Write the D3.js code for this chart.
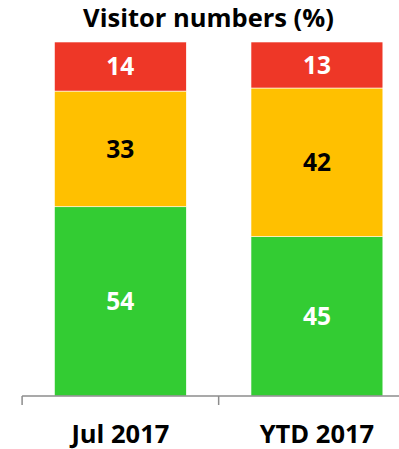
<!DOCTYPE html>
<html>
<head>
<meta charset="utf-8">
<script src="https://cdn.jsdelivr.net/npm/d3@7"></script>
<style>
  body { margin: 0; background: #fff; }
  text { font-family: "Open Sans", "Noto Sans", sans-serif; font-weight: bold; }
</style>
</head>
<body>
<div id="chart"></div>
<script>
const categories = ['Jul 2017', 'YTD 2017'];
const seriesNames = ['Green', 'Amber', 'Red'];
const green = [54, 45];
const amber = [33, 42];
const red = [14, 13];
const title = 'Visitor numbers (%)';

const width = 399, height = 449;
const colors = { Green: '#33cc33', Amber: '#ffc000', Red: '#ee3727' };
const labelColors = { Green: '#fff', Amber: '#000', Red: '#fff' };

const svg = d3.select('#chart').append('svg').attr('width', width).attr('height', height);

// build rows, each bar scaled to its own total (100%)
const rows = categories.map((c, i) => ({ cat: c, Green: green[i], Amber: amber[i], Red: red[i] }));
rows.forEach(r => { r.total = r.Green + r.Amber + r.Red; });
const stacked = d3.stack().keys(seriesNames)
    .value((d, k) => d[k] / d.total)(rows);

const x = d3.scaleBand().domain(categories).range([22, 415.3]).paddingInner(0.329).paddingOuter(0.165);
const y = d3.scaleLinear().domain([0, 1]).range([396, 42]);

// title
svg.append('text')
    .attr('x', 208.5)
    .attr('y', 27)
    .attr('text-anchor', 'middle')
    .style('font-size', '25.5px')
    .attr('fill', '#000')
    .text(title);

const layer = svg.selectAll('g.layer').data(stacked).enter().append('g').attr('class', 'layer');

layer.selectAll('rect').data(s => s.map(d => ({ key: s.key, d: d })))
    .enter().append('rect')
    .attr('x', o => x(o.d.data.cat))
    .attr('width', x.bandwidth())
    .attr('y', o => y(o.d[1]))
    .attr('height', o => y(o.d[0]) - y(o.d[1]))
    .attr('fill', o => colors[o.key])
    .attr('stroke', '#fff')
    .attr('stroke-width', 0.6);

layer.selectAll('text').data(s => s.map(d => ({ key: s.key, d: d })))
    .enter().append('text')
    .attr('x', o => x(o.d.data.cat) + x.bandwidth() / 2)
    .attr('y', o => (y(o.d[0]) + y(o.d[1])) / 2)
    .attr('dy', '0.36em')
    .attr('text-anchor', 'middle')
    .style('font-size', '24.5px')
    .attr('fill', o => labelColors[o.key])
    .text(o => o.d.data[o.key]);

// axis: baseline with ticks at the category boundaries
const axis = svg.append('g').attr('transform', 'translate(0,396)');
const half = x.step() * x.paddingInner() / 2;
const bounds = categories.map(c => x(c) - half).concat([x(categories[categories.length - 1]) + x.bandwidth() + half]);

axis.append('line')
    .attr('x1', bounds[0]).attr('x2', bounds[bounds.length - 1])
    .attr('stroke', '#8c8c8c').attr('stroke-width', 1.5);

axis.selectAll('line.tick').data(bounds).enter().append('line')
    .attr('class', 'tick')
    .attr('x1', d => d).attr('x2', d => d)
    .attr('y1', 0).attr('y2', 9)
    .attr('stroke', '#8c8c8c').attr('stroke-width', 1.5);

axis.selectAll('text').data(categories).enter().append('text')
    .attr('x', d => x(d) + x.bandwidth() / 2)
    .attr('y', 47)
    .attr('text-anchor', 'middle')
    .style('font-size', '25.5px')
    .attr('fill', '#000')
    .text(d => d);
</script>
</body>
</html>
